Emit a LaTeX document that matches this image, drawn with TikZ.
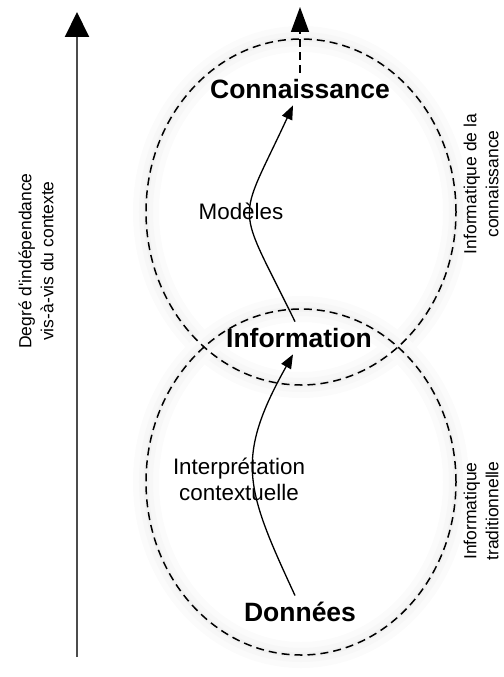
\documentclass[tikz,border=0pt]{standalone}
\usepackage{fontspec}
\setmainfont{Liberation Sans}
\usetikzlibrary{arrows.meta}
\usetikzlibrary{positioning}

\begin{document}
\begin{tikzpicture}
	[x=1bp, y=-1bp,
	line width=1.3bp]

\tikzstyle{zone}=[dash pattern=on 8bp off 5bp, line width=1.5bp]
\tikzstyle{glow}=[draw=black!1.5, line width=26bp,
	postaction={draw=black!3, line width=14bp},
	postaction={draw=black!5, line width=5bp}]
\tikzstyle{level}=[font=\fontsize{26.5bp}{30bp}\selectfont\bfseries, inner sep=6bp]
\tikzstyle{step label}=[font=\fontsize{22.4bp}{26bp}\selectfont, align=center]
\tikzstyle{side label}=[font=\fontsize{17.5bp}{22bp}\selectfont, align=center, rotate=90]
\tikzstyle{flow}=[-{Triangle[length=14bp, width=11bp]}]

\def\ZoneX{301}
\def\TopZoneY{212}
\def\BottomZoneY{482}
\def\RadX{155bp}
\def\RadY{173bp}

\useasboundingbox (0, 0) rectangle (504, 677);

% Zones
\draw [glow] (\ZoneX, \TopZoneY) ellipse [x radius=\RadX, y radius=\RadY];
\draw [glow] (\ZoneX, \BottomZoneY) ellipse [x radius=\RadX, y radius=\RadY];
\draw [zone] (\ZoneX, \TopZoneY) ellipse [x radius=\RadX, y radius=\RadY];
\draw [zone] (\ZoneX, \BottomZoneY) ellipse [x radius=\RadX, y radius=\RadY];

% Levels
\node (con) [level] at (300, 89) {Connaissance};
\node (info) [level] at (299, 338) {Information};
\node (don) [level] at (300, 612) {Données};

% Transitions
\draw [flow]
	([xshift=-5bp]don.north) .. controls +(-49, -106) and +(-59, 105) ..
	([xshift=-6bp]info.south);
\draw [flow]
	([xshift=-4bp]info.north) .. controls +(-60, -123) and +(-57, 123) ..
	([xshift=-7bp]con.south);

\node (modeles) [step label] at (241, 211) {Modèles};
\node (interp) [step label] at (239, 479) {Interprétation\\contextuelle};

% Beyond knowledge
\coordinate (peak) at (300, 7);
\draw [zone, -{Triangle[length=25bp, width=18bp]}] (con.north) -- (peak);

% Axis
\coordinate (low) at (77, 657);
\coordinate (high) at (77, 12);
\draw [draw=black!70, line width=2bp,
	-{Triangle[length=25bp, width=24bp, color=black]}] (low) -- (high);

\node (degre) [side label] at (36, 261)
	{Degré d\textquotesingle indépendance\\vis-à-vis du contexte};
\node (infoconn) [side label] at (481, 184)
	{Informatique de la\\connaissance};
\node (infotrad) [side label] at (481, 511)
	{Informatique\\traditionnelle};

\end{tikzpicture}
\end{document}
